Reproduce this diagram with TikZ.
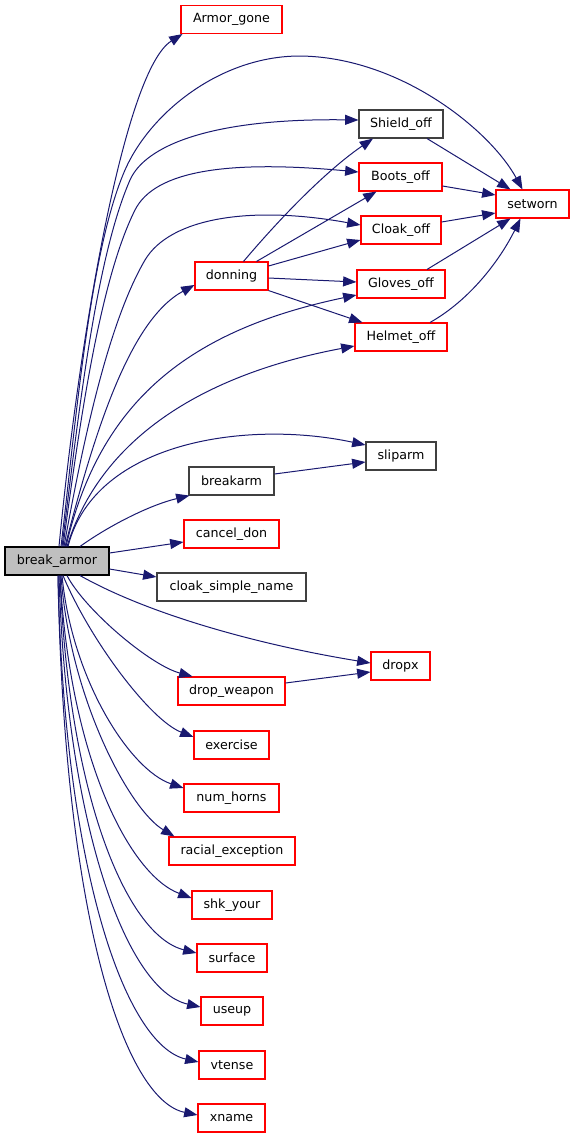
\documentclass[tikz,border=0pt]{standalone}
\usepackage{fontspec}
\setmainfont{DejaVu Sans}
\usetikzlibrary{arrows.meta,calc}
\definecolor{edgeblue}{HTML}{191970}
\definecolor{boxgray}{HTML}{404040}
\definecolor{fillgray}{HTML}{BFBFBF}
\definecolor{nodered}{RGB}{255,0,0}
\begin{document}
\begin{tikzpicture}[x=0.75pt,y=-0.75pt,
  box/.style={line width=0.8pt, minimum height=21pt, inner sep=0pt, font=\fontsize{9.5}{11}\selectfont},
  redbox/.style={box, draw=nodered, fill=white},
  blackbox/.style={box, draw=boxgray, fill=white},
  e/.style={draw=edgeblue, line width=0.75pt, -{Triangle[length=10pt,width=7.5pt]}}]
\useasboundingbox (0,0) rectangle (573,1139);
% nodes
\node[box, fill=fillgray, draw=black, minimum width=78pt] (ba) at (57,561) {break\_armor};
\node[redbox, minimum width=75.75pt] (ag) at (231.5,19.5) {Armor\_gone};
\node[blackbox, minimum width=63pt] (sh) at (401,124) {Shield\_off};
\node[redbox, minimum width=62.25pt] (bo) at (400.5,177) {Boots\_off};
\node[redbox, minimum width=60pt] (cl) at (401,230) {Cloak\_off};
\node[redbox, minimum width=66pt] (gl) at (401,284) {Gloves\_off};
\node[redbox, minimum width=69pt] (he) at (401,337) {Helmet\_off};
\node[redbox, minimum width=54.75pt] (sw) at (532.5,204) {setworn};
\node[redbox, minimum width=54.75pt] (dn) at (231.5,276) {donning};
\node[blackbox, minimum width=52.5pt] (sl) at (401,456) {sliparm};
\node[blackbox, minimum width=63.75pt] (bk) at (231.5,481) {breakarm};
\node[redbox, minimum width=71.25pt] (cd) at (231.5,534) {cancel\_don};
\node[blackbox, minimum width=111.75pt] (cs) at (231.5,587) {cloak\_simple\_name};
\node[redbox, minimum width=44.25pt] (dx) at (400.5,666) {dropx};
\node[redbox, minimum width=80.25pt] (dw) at (231.5,691) {drop\_weapon};
\node[redbox, minimum width=56.25pt] (ex) at (231.5,745) {exercise};
\node[redbox, minimum width=71.25pt] (nh) at (231.5,798) {num\_horns};
\node[redbox, minimum width=94.5pt] (re) at (232,851) {racial\_exception};
\node[redbox, minimum width=60pt] (sk) at (232,905) {shk\_your};
\node[redbox, minimum width=52.5pt] (su) at (232,958) {surface};
\node[redbox, minimum width=46.5pt] (uu) at (232,1011) {useup};
\node[redbox, minimum width=49.5pt] (vt) at (232,1065) {vtense};
\node[redbox, minimum width=50.25pt] (xn) at (231.5,1118) {xname};
% edges from break_armor (upwards)
\draw[e] ($(ba.north)+(2,0)$) .. controls (80,330) and (125,70) .. ($(ag.south west)+(2,0)$);
\draw[e] ($(ba.north)+(4,0)$) .. controls (76,420) and (90,250) .. (125,170) .. controls (150,113) and (220,56) .. (300,56) .. controls (400,57) and (490,130) .. ($(sw.north)+(-10,0)$);
\draw[e] ($(ba.north)+(5,0)$) .. controls (78,420) and (95,260) .. (130,180) .. controls (145,146) and (210,118) .. ($(sh.west)+(0,-4)$);
\draw[e] ($(ba.north)+(6,0)$) .. controls (80,420) and (100,280) .. (135,210) .. controls (155,170) and (230,160) .. ($(bo.west)+(0,-5)$);
\draw[e] ($(ba.north)+(7,0)$) .. controls (85,430) and (110,320) .. (145,260) .. controls (170,218) and (250,205) .. ($(cl.west)+(0,-5)$);
\draw[e] ($(ba.north)+(8,0)$) .. controls (95,430) and (130,320) .. ($(dn.west)+(0,9)$);
\draw[e] ($(ba.north)+(9,0)$) .. controls (100,400) and (190,330) .. ($(gl.west)+(0,11)$);
\draw[e] ($(ba.north)+(10,0)$) .. controls (100,440) and (200,375) .. ($(he.west)+(0,9)$);
\draw[e] ($(ba.north)+(11,0)$) .. controls (95,440) and (250,420) .. ($(sl.west)+(0,-11)$);
\draw[e] ($(ba.north)+(23,0)$) .. controls (110,525) and (150,505) .. ($(bk.south west)+(1,0)$);
% sideways
\draw[e] ($(ba.east)+(0,-8)$) -- ($(cd.west)+(0,8)$);
\draw[e] ($(ba.east)+(0,8)$) -- ($(cs.west)+(0,-10)$);
% downwards
\draw[e] ($(ba.south)+(23,0)$) .. controls (150,615) and (260,645) .. ($(dx.west)+(0,-3)$);
\draw[e] ($(ba.south)+(10,0)$) .. controls (85,610) and (150,665) .. ($(dw.north west)+(15,0)$);
\draw[e] ($(ba.south)+(6,0)$) .. controls (90,640) and (150,720) .. ($(ex.west)+(0,-8)$);
\draw[e] ($(ba.south)+(5,0)$) .. controls (72,680) and (130,770) .. ($(nh.west)+(0,-10)$);
\draw[e] ($(ba.south)+(4,0)$) .. controls (70,700) and (130,810) .. ($(re.north west)+(6,0)$);
\draw[e] ($(ba.south)+(3,0)$) .. controls (70,760) and (130,875) .. ($(sk.west)+(0,-7)$);
\draw[e] ($(ba.south)+(3,0)$) .. controls (68,790) and (125,935) .. ($(su.west)+(0,-5)$);
\draw[e] ($(ba.south)+(2,0)$) .. controls (66,820) and (125,990) .. ($(uu.west)+(0,-4)$);
\draw[e] ($(ba.south)+(1,0)$) .. controls (64,870) and (125,1045) .. ($(vt.west)+(0,-3)$);
\draw[e] ($(ba.south)+(1,0)$) .. controls (64,920) and (125,1100) .. ($(xn.west)+(0,-3)$);
% from donning
\draw[e] ($(dn.north)+(12,0)$) .. controls (270,230) and (320,175) .. ($(sh.south)+(-28,0)$);
\draw[e] ($(dn.north)+(25,0)$) -- ($(bo.south)+(-24,0)$);
\draw[e] ($(dn.east)+(0,-10)$) -- ($(cl.west)+(0,10)$);
\draw[e] ($(dn.east)+(0,2)$) -- ($(gl.west)+(0,-2)$);
\draw[e] (dn.south east) -- ($(he.north west)+(8,0)$);
% to setworn
\draw[e] ($(sh.south)+(26,0)$) -- ($(sw.north)+(-22,0)$);
\draw[e] ($(bo.east)+(0,9)$) -- ($(sw.west)+(0,-9)$);
\draw[e] ($(cl.east)+(0,-8)$) -- ($(sw.west)+(0,9)$);
\draw[e] ($(gl.north)+(26,0)$) -- ($(sw.south)+(-22,0)$);
\draw[e] ($(he.north)+(29,0)$) .. controls (470,300) and (500,260) .. ($(sw.south)+(-12,0)$);
% others
\draw[e] ($(bk.east)+(0,-7)$) -- ($(sl.west)+(0,6)$);
\draw[e] ($(dw.east)+(0,-8)$) -- ($(dx.west)+(0,6)$);
\end{tikzpicture}
\end{document}
